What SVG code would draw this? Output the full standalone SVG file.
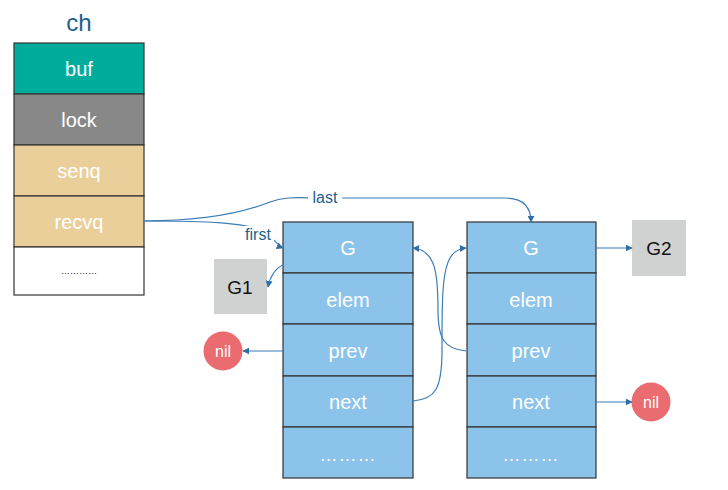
<svg xmlns="http://www.w3.org/2000/svg" width="728" height="490" viewBox="0 0 728 490">
<style>
text{font-family:"Liberation Sans",Arial,sans-serif;text-anchor:middle;dominant-baseline:central}
.cell{stroke:#333;stroke-width:1.2}
.w{fill:#fff;font-size:20px}
.b{fill:#111;font-size:19px}
.blue{fill:#8bc3ea}
.conn{fill:none;stroke:#3a7db5;stroke-width:1.2}
.lbl{fill:#1f5f8b;font-size:16px}
</style>
<defs>
<marker id="ah" viewBox="0 0 10 10" refX="9" refY="5" markerWidth="7" markerHeight="7" markerUnits="userSpaceOnUse" orient="auto">
<path d="M0,0 L10,5 L0,10 z" fill="#2f6fa3"/>
</marker>
</defs>
<rect width="728" height="490" fill="#fff"/>

<g id="ch">
<text x="79" y="22" style="fill:#1f5f8b;font-size:24px">ch</text>
<rect class="cell" x="14" y="43" width="130" height="51" fill="#00ad9c"/>
<text class="w" x="79" y="69">buf</text>
<rect class="cell" x="14" y="94" width="130" height="51" fill="#888888"/>
<text class="w" x="79" y="120">lock</text>
<rect class="cell" x="14" y="145" width="130" height="51" fill="#ebcf9b"/>
<text class="w" x="79" y="171">senq</text>
<rect class="cell" x="14" y="196" width="130" height="51" fill="#ebcf9b"/>
<text class="w" x="79" y="222">recvq</text>
<rect class="cell" x="14" y="247" width="130" height="48" fill="#fff"/>
<text x="79" y="271" style="fill:#111;font-size:9px">…………</text>
</g>

<g id="node1">
<rect class="cell blue" x="283" y="222" width="130" height="51"/>
<text class="w" x="348" y="248">G</text>
<rect class="cell blue" x="283" y="273" width="130" height="51"/>
<text class="w" x="348" y="300">elem</text>
<rect class="cell blue" x="283" y="324" width="130" height="52"/>
<text class="w" x="348" y="351">prev</text>
<rect class="cell blue" x="283" y="376" width="130" height="51"/>
<text class="w" x="348" y="402">next</text>
<rect class="cell blue" x="283" y="427" width="130" height="51"/>
<text class="w" x="348" y="455" style="font-size:18px;letter-spacing:1px">………</text>
</g>

<g id="node2">
<rect class="cell blue" x="467" y="222" width="129" height="51"/>
<text class="w" x="531" y="248">G</text>
<rect class="cell blue" x="467" y="273" width="129" height="51"/>
<text class="w" x="531" y="300">elem</text>
<rect class="cell blue" x="467" y="324" width="129" height="52"/>
<text class="w" x="531" y="351">prev</text>
<rect class="cell blue" x="467" y="376" width="129" height="51"/>
<text class="w" x="531" y="402">next</text>
<rect class="cell blue" x="467" y="427" width="129" height="51"/>
<text class="w" x="531" y="455" style="font-size:18px;letter-spacing:1px">………</text>
</g>

<g id="G1">
<rect x="214" y="259" width="53" height="55" fill="#d0d1d1"/>
<text class="b" x="240" y="287">G1</text>
</g>
<g id="G2">
<rect x="632" y="220" width="54" height="56" fill="#d0d1d1"/>
<text class="b" x="659" y="248">G2</text>
</g>
<g id="nil1">
<circle cx="223" cy="351" r="19.5" fill="#ea6b70"/>
<text x="223" y="351" style="fill:#fff;font-size:16px">nil</text>
</g>
<g id="nil2">
<circle cx="651" cy="402" r="19.5" fill="#ea6b70"/>
<text x="651" y="402" style="fill:#fff;font-size:16px">nil</text>
</g>

<g id="connectors">
<path class="conn" d="M144,221 C215,221 240,223 262,230 C272,236 278,246 283,248" marker-end="url(#ah)"/>
<path class="conn" d="M144,221 C215,221 250,210 270,202 C285,196 300,198 320,198 L505,198 C522,198 531,206 531,222" marker-end="url(#ah)"/>
<path class="conn" d="M283,265 C276,268 270,276 268,287" marker-end="url(#ah)"/>
<path class="conn" d="M466,351 C445,349 438,340 438,310 C438,275 436,250 413,248" marker-end="url(#ah)"/>
<path class="conn" d="M413,401 C435,399 442,390 442,350 C442,280 442,250 466,248" marker-end="url(#ah)"/>
<path class="conn" d="M596,248 L632,248" marker-end="url(#ah)"/>
<path class="conn" d="M283,351 L243,351" marker-end="url(#ah)"/>
<path class="conn" d="M596,402 L632,402" marker-end="url(#ah)"/>
<rect x="308" y="189" width="34" height="17" fill="#fff"/>
<text class="lbl" x="325" y="197">last</text>
<rect x="242" y="226" width="32" height="16" fill="#fff"/>
<text class="lbl" x="258" y="234">first</text>
</g>
</svg>
